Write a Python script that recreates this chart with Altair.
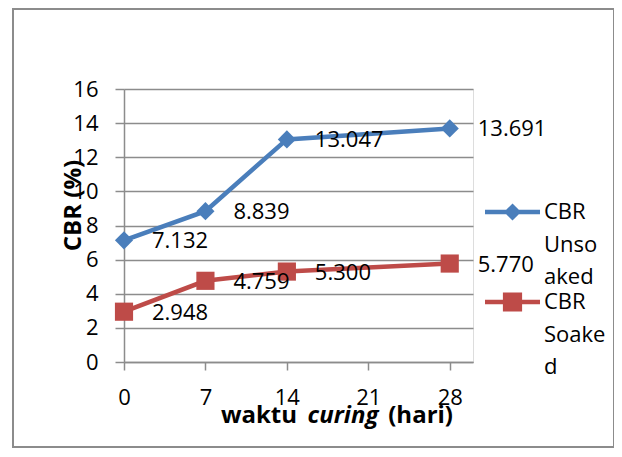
import altair as alt
import pandas as pd

# ---- data ----
days = [0, 7, 14, 28]
unsoaked = [7.132, 8.839, 13.047, 13.691]
soaked = [2.948, 4.759, 5.300, 5.770]
series_names = ["CBR Unsoaked", "CBR Soaked"]
legend_lines = [["CBR", "Unso", "aked"], ["CBR", "Soake", "d"]]
x_ticks = [0, 7, 14, 21, 28]
y_ticks = [0, 2, 4, 6, 8, 10, 12, 14, 16]
x_title_parts = ["waktu", "curing", "(hari)"]
y_title = "CBR (%)"

colors = ["#4A7EBB", "#BE4B48"]
FONT = "Open Sans"

rows = []
for d, u in zip(days, unsoaked):
    rows.append({"day": d, "cbr": u, "series": series_names[0]})
for d, s in zip(days, soaked):
    rows.append({"day": d, "cbr": s, "series": series_names[1]})
df = pd.DataFrame(rows)

W, H = 349, 273
xscale = alt.Scale(domain=[0, 30], nice=False, zero=False)
yscale = alt.Scale(domain=[0, 16], nice=False)

xaxis = alt.Axis(values=x_ticks, title=None, grid=False, domainColor="#8C8C8C",
                 domainWidth=1.5, tickColor="#8C8C8C", tickWidth=1.5, tickSize=8,
                 labelFont=FONT, labelFontSize=22, labelColor="#000000",
                 labelPadding=17, labelFlush=False, labelOverlap=False)
yaxis = alt.Axis(values=y_ticks, title=y_title, grid=True, gridColor="#8C8C8C",
                 gridWidth=1.5, domainColor="#8C8C8C", domainWidth=1.5,
                 tickColor="#8C8C8C", tickWidth=1.5, tickSize=9,
                 labelFont=FONT, labelFontSize=22, labelColor="#000000",
                 labelPadding=17, labelOverlap=False, labelFlush=False,
                 titleFont=FONT, titleFontSize=24,
                 titleFontWeight="bold", titleColor="#000000", titleAngle=270,
                 titleX=-51, titleY=116, titleAlign="center", titleBaseline="middle")

X = alt.X("day:Q", scale=xscale, axis=xaxis)
Y = alt.Y("cbr:Q", scale=yscale, axis=yaxis)
color_main = alt.Scale(domain=series_names, range=colors)

base = alt.Chart(df)

lines = base.mark_line(strokeWidth=4.5).encode(
    x=X, y=Y,
    color=alt.Color("series:N", scale=color_main, legend=None),
    detail="series:N",
)

points = base.mark_point(filled=True, opacity=1, size=330).encode(
    x=X, y=Y,
    color=alt.Color("series:N", scale=color_main, legend=None),
    shape=alt.Shape("series:N", scale=alt.Scale(domain=series_names,
                                                range=["diamond", "square"]), legend=None),
)

labels = base.mark_text(align="left", baseline="middle", dx=28, dy=1,
                        font=FONT, fontSize=22, color="#000000").encode(
    x=X, y=Y,
    text=alt.Text("cbr:Q", format=".3f"),
)

# legend-only layer (no visible marks); symbol path drawn wider than its box
r = 12.5
line_w = 27.5 / r
line_h = 2.2 / r
dia = 8.6 / r
sq = 9.6 / r
path_dia = (f"M{-line_w:.3f},{-line_h:.3f}L{line_w:.3f},{-line_h:.3f}L{line_w:.3f},{line_h:.3f}L{-line_w:.3f},{line_h:.3f}Z"
            f"M0,{-dia:.3f}L{dia:.3f},0L0,{dia:.3f}L{-dia:.3f},0Z")
path_sq = (f"M{-line_w:.3f},{-line_h:.3f}L{line_w:.3f},{-line_h:.3f}L{line_w:.3f},{line_h:.3f}L{-line_w:.3f},{line_h:.3f}Z"
           f"M{-sq:.3f},{-sq:.3f}L{sq:.3f},{-sq:.3f}L{sq:.3f},{sq:.3f}L{-sq:.3f},{sq:.3f}Z")

label_map = "{" + ",".join(
    f"'{n}':[" + ",".join(f"'{p}'" for p in parts) + "]"
    for n, parts in zip(series_names, legend_lines)) + "}"

legend_layer = base.mark_point(filled=True, opacity=1).encode(
    x=X, y=Y,
    color=alt.Color("series:N", scale=alt.Scale(domain=series_names, range=colors),
                    legend=alt.Legend(title=None, orient="none", legendX=376, legendY=110.5,
                                      labelFont=FONT, labelFontSize=22,
                                      labelColor="#000000", labelOffset=19,
                                      labelBaseline="middle",
                                      symbolSize=4 * r * r, symbolStrokeWidth=0,
                                      rowPadding=1, padding=0,
                                      labelExpr=f"{label_map}[datum.label]")),
    shape=alt.Shape("series:N", scale=alt.Scale(domain=series_names,
                                                range=[path_dia, path_sq])),
).transform_filter("false")

# mixed-style x title
title_df = pd.DataFrame({"t": x_title_parts})
TY = 334
t1 = alt.Chart(title_df).transform_filter(f"datum.t == '{x_title_parts[0]}'").mark_text(
    align="right", baseline="alphabetic", font=FONT, fontSize=24, fontWeight="bold",
    color="#000000").encode(text="t:N", x=alt.value(173), y=alt.value(TY))
t2 = alt.Chart(title_df).transform_filter(f"datum.t == '{x_title_parts[1]}'").mark_text(
    align="center", baseline="alphabetic", font=FONT, fontSize=24, fontWeight="bold",
    fontStyle="italic", color="#000000").encode(text="t:N", x=alt.value(219), y=alt.value(TY))
t3 = alt.Chart(title_df).transform_filter(f"datum.t == '{x_title_parts[2]}'").mark_text(
    align="right", baseline="alphabetic", font=FONT, fontSize=24, fontWeight="bold",
    color="#000000").encode(text="t:N", x=alt.value(329), y=alt.value(TY))

border = alt.Chart(pd.DataFrame({"a": [0]})).mark_rect(
    fill=None, stroke="#8C8C8C", strokeWidth=2, clip=False).encode(
    x=alt.value(-111), x2=alt.value(490), y=alt.value(-80), y2=alt.value(358))

chart = alt.layer(border, lines, points, labels, legend_layer, t1, t2, t3).resolve_scale(
    color="independent", shape="independent"
).properties(
    width=W, height=H,
    autosize=alt.AutoSizeParams(type="none"),
    padding={"left": 116, "top": 81, "right": 141, "bottom": 87},
).configure_view(stroke=None).configure(
    style={"guide-label": {"lineHeight": 32.5}}
)

chart.save("out.html", embed_options={"renderer": "svg", "actions": False})
